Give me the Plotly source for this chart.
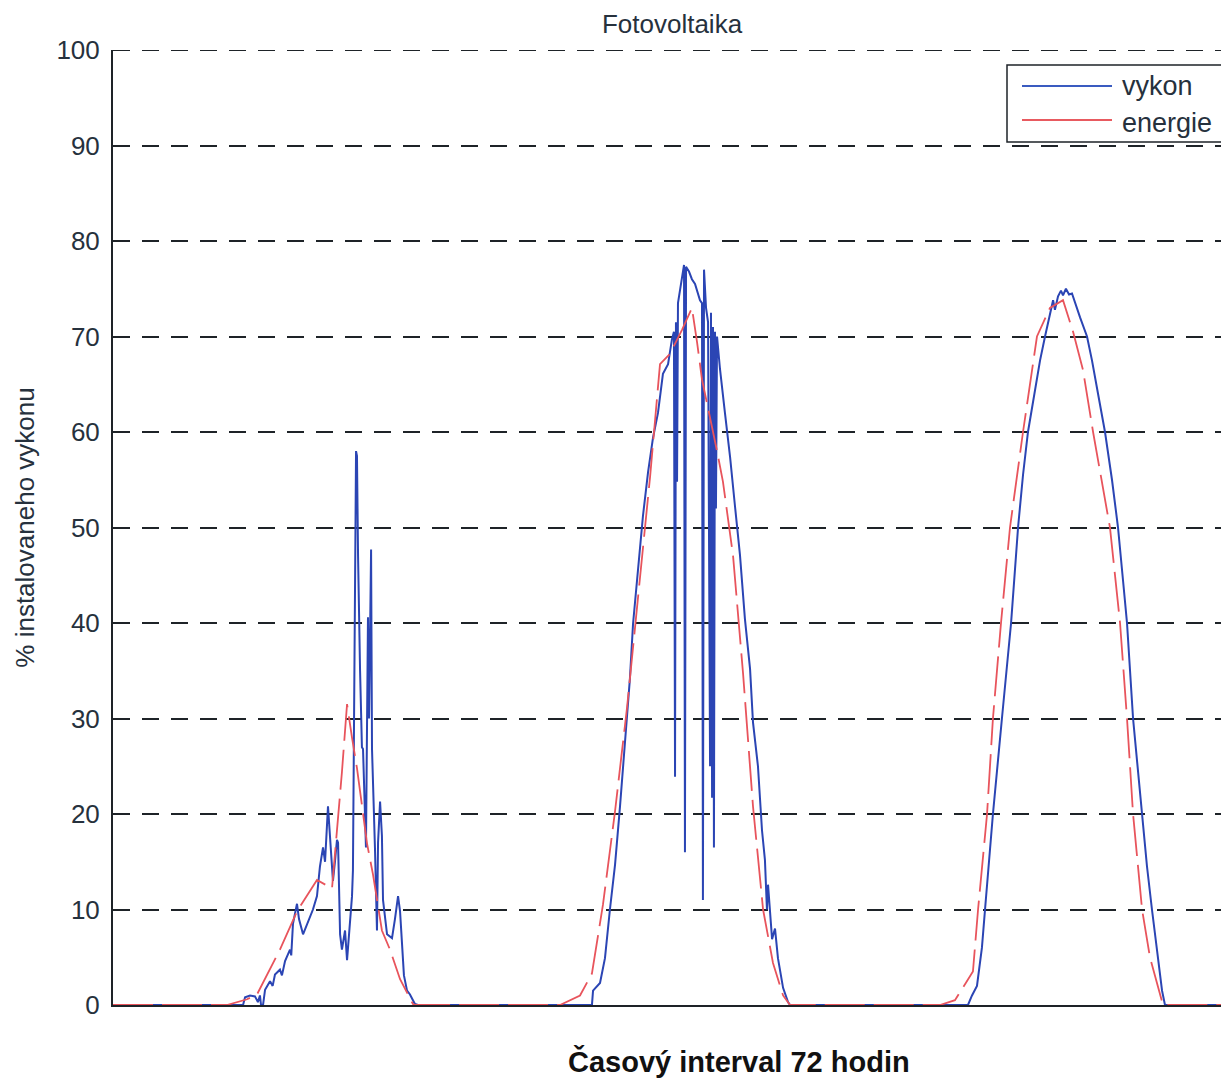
import plotly.graph_objects as go

# time axis in hours (0-72), values in % of installed power
vykon_t = [0.0, 8.39, 8.52, 8.84, 9.16, 9.35, 9.48, 9.55, 9.68, 9.81, 10.13, 10.3, 10.45, 10.77, 10.9,
           11.1, 11.23, 11.42, 11.5, 11.61, 11.87, 12.0, 12.26, 12.45, 12.71, 12.9, 13.16, 13.35, 13.55,
           13.68, 13.87, 14.0, 14.19, 14.32, 14.45, 14.52, 14.65, 14.77, 14.97, 15.1, 15.29, 15.42, 15.48,
           15.61, 15.68, 15.74, 15.81, 15.94, 16.06, 16.13, 16.32, 16.45, 16.52, 16.65, 16.71, 16.9, 17.03,
           17.1, 17.23, 17.35, 17.42, 17.68, 18.0, 18.19, 18.39, 18.52, 18.65, 18.77, 18.97, 19.16, 19.48,
           19.68, 30.9,
           30.97, 31.42, 31.74, 32.06, 32.39, 32.71, 33.03, 33.35, 33.55, 33.87, 34.19, 34.52, 34.84, 35.16,
           35.48, 35.81, 36.06, 36.19, 36.26, 36.32, 36.39, 36.45, 36.71, 36.84, 36.9, 36.97, 37.16, 37.35,
           37.55, 37.68, 37.87, 38.0, 38.06, 38.13, 38.26, 38.39, 38.52, 38.58, 38.65, 38.71, 38.77, 38.84,
           38.9, 38.97, 39.16, 39.48, 39.81, 40.13, 40.45, 40.77, 41.1, 41.29, 41.61, 41.87, 42.06, 42.19,
           42.26, 42.52, 42.71, 42.9, 43.23, 43.55, 43.68, 55.16,
           55.42, 55.74, 56.06, 56.26, 56.77, 57.35, 57.94, 58.39, 58.71, 59.03, 59.48, 59.81, 60.13, 60.45,
           60.65, 60.77, 60.97, 61.16, 61.29, 61.48, 61.68, 61.87, 62.06, 62.39, 62.84, 63.16, 63.55, 64.0,
           64.45, 64.84, 65.16, 65.42, 65.81, 66.39, 66.71, 67.03, 67.35, 67.68, 67.87, 72.0]
vykon = [0, 0, 0.8, 1.0, 0.9, 0.3, 1.0, 0, 0, 1.6, 2.5, 2.0, 3.2, 3.7, 3.1,
         4.6, 5.1, 5.8, 5.2, 8.5, 10.6, 9.0, 7.4, 8.2, 9.4, 10.0, 11.4, 14.5, 16.5,
         15.0, 20.8, 17.7, 13.0, 15.0, 17.3, 17.0, 7.4, 5.8, 7.8, 4.7, 8.2, 11.4, 14.1,
         48.5, 58.0, 57.5, 47.0, 35.0, 27.0, 26.8, 16.5, 40.6, 30.0, 47.7, 26.8, 16.5, 7.8,
         17.0, 21.3, 17.7, 11.0, 7.4, 7.0, 9.0, 11.4, 9.8, 6.6, 3.1, 1.5, 1.1, 0.1,
         0, 0,
         1.5, 2.3, 4.9, 10.0, 14.7, 20.8, 27.5, 34.2, 39.9, 46.0, 51.2, 55.8, 59.4, 62.0,
         66.1, 67.1, 69.7, 70.5, 23.9, 71.5, 54.8, 73.5, 76.5, 77.5, 16.0, 77.3, 76.8, 76.0,
         75.5, 74.8, 73.8, 73.5, 11.0, 77.0, 73.0, 71.5, 25.0, 72.5, 21.7, 71.0, 16.5, 70.5,
         52.0, 70.0, 66.6, 62.0, 57.4, 52.2, 47.1, 40.4, 35.2, 29.6, 25.0, 18.3, 15.2, 10.0,
         12.6, 6.9, 8.0, 4.9, 1.8, 0.3, 0, 0,
         1.0, 2.0, 6.0, 10.0, 20.0, 30.0, 40.0, 50.0, 55.5, 60.0, 64.5, 67.5, 70.0, 72.5,
         73.8, 72.8, 74.2, 74.8, 74.3, 75.0, 74.4, 74.5, 73.5, 72.0, 70.0, 67.5, 64.0, 60.0,
         55.0, 50.0, 44.5, 40.0, 30.0, 20.0, 14.5, 10.0, 5.5, 1.5, 0, 0]

energie_t = [0.0, 7.35, 8.65, 9.29, 10.77, 11.87, 13.16, 14.13, 14.77, 15.1, 15.42, 15.74, 16.39, 16.77,
             17.35, 17.87, 18.52, 19.35, 19.55, 28.84,
             30.13, 30.9, 31.61, 32.39, 33.16, 33.87, 34.65, 35.29, 35.94, 36.71, 37.35, 37.68, 38.0,
             38.97, 39.35, 40.0, 40.65, 41.29, 41.94, 42.58, 43.23, 43.68, 53.35,
             54.32, 55.48, 55.81, 56.39, 56.77, 57.29, 57.87, 58.71, 59.61, 60.45, 61.29, 61.94, 62.58,
             63.23, 64.32, 64.97, 65.42, 65.81, 66.39, 66.9, 67.74, 72.0]
energie = [0, 0, 0.6, 1.1, 5.8, 9.8, 13.1, 12.2, 24.4, 31.5, 28.0, 24.8, 16.9, 13.7,
           7.8, 5.8, 2.7, 0.1, 0, 0,
           1.0, 3.3, 10.5, 20.3, 31.1, 43.0, 55.3, 67.1, 68.2, 70.7, 73.0, 69.4, 65.5,
           58.0, 54.8, 47.1, 34.7, 20.8, 10.0, 4.4, 1.0, 0, 0,
           0.5, 3.5, 10, 20, 30, 40, 50, 60, 70, 73, 73.8, 70.5, 66.5,
           60, 50, 40, 30, 20, 10, 5, 0, 0]

y_ticks = [0, 10, 20, 30, 40, 50, 60, 70, 80, 90, 100]
y_max = 100
series_names = ["vykon", "energie"]

BLUE = "#2b45b4"
RED = "#e8545c"
TXT = "#26313d"
AX = "#1e2328"
FONT = "Liberation Sans, Arial, sans-serif"
GRID_DASH = "17px,12px"

fig = go.Figure()
fig.add_trace(go.Scatter(x=vykon_t, y=vykon, mode="lines", name=series_names[0],
                         line=dict(color=BLUE, width=2), showlegend=False))
fig.add_trace(go.Scatter(x=energie_t, y=energie, mode="lines", name=series_names[1],
                         line=dict(color=RED, width=1.8, dash="40px,9px"), showlegend=False))

# page body has an 8px margin; figure coordinates below are screen pixels minus 8
OFF = 8
W, H = 1229 - OFF, 1080 - OFF
L, R, T, B = 113 - OFF, 0, 50 - OFF, 75
pw, ph = W - L - R, H - T - B


def px_x(px):
    return (px - OFF - L) / pw


def px_y(py):
    return (H - B - (py - OFF)) / ph


shapes = [
    # top gridline (at the axis edge, which plotly does not draw itself)
    dict(type="line", xref="paper", yref="y", x0=0, x1=1, y0=y_max, y1=y_max,
         line=dict(color=AX, width=2, dash=GRID_DASH), layer="below"),
    dict(type="rect", xref="paper", yref="paper", x0=px_x(1007), x1=px_x(1227), y0=px_y(142), y1=px_y(65),
         line=dict(color=AX, width=1.5), fillcolor="white", layer="above"),
    dict(type="line", xref="paper", yref="paper", x0=px_x(1022), x1=px_x(1112), y0=px_y(86), y1=px_y(86),
         line=dict(color="#3a5bc0", width=2), layer="above"),
    dict(type="line", xref="paper", yref="paper", x0=px_x(1022), x1=px_x(1112), y0=px_y(120), y1=px_y(120),
         line=dict(color="#e85a60", width=2), layer="above"),
]
annotations = [
    dict(text=series_names[0], xref="paper", yref="paper", x=px_x(1120), y=px_y(86), xanchor="left",
         yanchor="middle", showarrow=False, font=dict(family=FONT, size=27, color=TXT)),
    dict(text=series_names[1], xref="paper", yref="paper", x=px_x(1120), y=px_y(123), xanchor="left",
         yanchor="middle", showarrow=False, font=dict(family=FONT, size=27, color=TXT)),
    dict(text="<b>Časový interval 72 hodin</b>", xref="paper", yref="paper", x=px_x(739), y=px_y(1061),
         xanchor="center", yanchor="middle", showarrow=False, font=dict(family=FONT, size=29, color="#111")),
]

fig.update_layout(
    width=W, height=H,
    margin=dict(l=L, r=R, t=T, b=B, pad=0),
    paper_bgcolor="white", plot_bgcolor="white",
    font=dict(family=FONT, color=TXT),
    title=dict(text="Fotovoltaika", x=(672 - OFF) / W, xanchor="center",
               y=1 - (24 - OFF) / H, yanchor="middle", yref="container",
               font=dict(family=FONT, size=26, color=TXT)),
    shapes=shapes, annotations=annotations, showlegend=False,
)
fig.update_xaxes(range=[0, 72], showticklabels=False, ticks="", showgrid=False, zeroline=False,
                 showline=True, linecolor=AX, linewidth=2)
fig.update_yaxes(range=[0, y_max], tickvals=y_ticks, ticks="inside", ticklen=8, tickcolor=AX,
                 tickwidth=1.5, showline=True, linecolor=AX, linewidth=2, zeroline=False,
                 showgrid=True, gridcolor=AX, gridwidth=2, griddash=GRID_DASH,
                 ticklabelstandoff=6,
                 tickfont=dict(family=FONT, size=26, color=TXT),
                 title=dict(text="% instalovaneho vykonu", standoff=14,
                            font=dict(family=FONT, size=26, color=TXT)))

fig.write_html("out.html")
